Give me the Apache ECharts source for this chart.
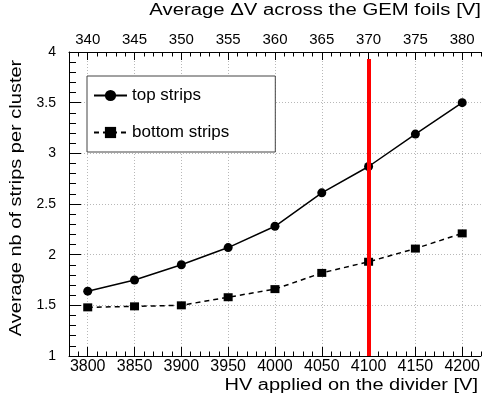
<!DOCTYPE html>
<html>
<head>
<meta charset="utf-8">
<script src="https://cdn.jsdelivr.net/npm/echarts@6/dist/echarts.min.js"></script>
<style>html,body{margin:0;padding:0;background:#fff}#c{width:483px;height:394px}</style>
</head>
<body>
<div id="c"></div>
<script>
const hv = [3800, 3850, 3900, 3950, 4000, 4050, 4100, 4150, 4200];
const topStrips = [1.64, 1.75, 1.90, 2.07, 2.28, 2.61, 2.87, 3.19, 3.50];
const bottomStrips = [1.48, 1.49, 1.50, 1.58, 1.66, 1.82, 1.93, 2.06, 2.21];
const bottomTicks = [3800, 3850, 3900, 3950, 4000, 4050, 4100, 4150, 4200];
const topTicks = [340, 345, 350, 355, 360, 365, 370, 375, 380];
const redLineX = 4100;
const redLineY = [1, 3.93];

const FONT = 'Liberation Sans';
const chart = echarts.init(document.getElementById('c'));
const zip = (xs, ys) => xs.map((x, i) => [x, ys[i]]);
const gridLine = { show: true, lineStyle: { color: '#b8b8b8', type: [1, 2], width: 1 } };
const tickStyle = { color: '#000', width: 1 };

chart.setOption({
  animation: false,
  backgroundColor: '#fff',
  textStyle: { fontFamily: FONT, color: '#000' },
  graphic: [
    { type: 'text', right: 2, top: 3, scaleX: 1.27,
      style: { text: 'Average \u0394V across the GEM foils [V]', font: '16px "Liberation Sans"', fill: '#000' } },
    { type: 'text', right: 5, top: 378, scaleX: 1.25,
      style: { text: 'HV applied on the divider [V]', font: '16px "Liberation Sans"', fill: '#000' } },
    { type: 'text', x: 17, y: 198, rotation: Math.PI / 2, scaleY: 0.8,
      style: { text: 'Average nb of strips per cluster', font: '20px "Liberation Sans"', fill: '#000',
        align: 'center', verticalAlign: 'middle' } }
  ],
  grid: { left: 69, right: -3, top: 52, bottom: 38, containLabel: false },
  legend: {
    data: ['top strips', 'bottom strips'],
    orient: 'vertical', left: 87, top: 76,
    padding: [11, 46, 11, 6],
    itemWidth: 33, itemHeight: 14, itemGap: 20,
    backgroundColor: '#fff', borderColor: '#444', borderWidth: 1,
    textStyle: { fontFamily: FONT, fontSize: 17, color: '#000' }
  },
  xAxis: [
    { type: 'value', position: 'bottom', min: 3780, max: 4220, interval: 10,
      axisLine: { show: true, lineStyle: { color: '#000', width: 1 } },
      axisTick: { show: true, inside: true, length: 4.5, lineStyle: tickStyle },
      axisLabel: { show: false }, splitLine: { show: false } },
    { type: 'value', position: 'bottom', min: 3780, max: 4220,
      axisLine: { show: false },
      axisTick: { show: true, inside: true, length: 9, customValues: bottomTicks, lineStyle: tickStyle },
      axisLabel: { show: true, customValues: bottomTicks, margin: 3, fontSize: 16, fontFamily: FONT, color: '#000',
        formatter: v => String(v) },
      splitLine: gridLine },
    { type: 'value', position: 'top', min: 338, max: 382, interval: 1,
      axisLine: { show: true, lineStyle: { color: '#000', width: 1 } },
      axisTick: { show: true, inside: true, length: 4.5, lineStyle: tickStyle },
      axisLabel: { show: false }, splitLine: { show: false } },
    { type: 'value', position: 'top', min: 338, max: 382,
      axisLine: { show: false },
      axisTick: { show: true, inside: true, length: 8, customValues: topTicks, lineStyle: tickStyle },
      axisLabel: { show: true, customValues: topTicks, margin: 5, fontSize: 15, fontFamily: FONT, color: '#000' },
      splitLine: { show: false } }
  ],
  yAxis: [
    { type: 'value', min: 1, max: 4, interval: 0.5,
      axisLine: { show: true, lineStyle: { color: '#000', width: 1 } },
      axisTick: { show: true, inside: true, length: 12, lineStyle: tickStyle },
      minorTick: { show: true, splitNumber: 5, length: 7, lineStyle: tickStyle },
      axisLabel: { margin: 13, fontSize: 14, fontFamily: FONT, color: '#000' },
      splitLine: gridLine }
  ],
  series: [
    { name: 'top strips', type: 'line', xAxisIndex: 0, yAxisIndex: 0,
      data: zip(hv, topStrips), symbol: 'circle', symbolSize: 9,
      lineStyle: { color: '#000', width: 1.5, type: 'solid' },
      itemStyle: { color: '#000' }, z: 3,
      markLine: { silent: true, symbol: 'none', label: { show: false },
        lineStyle: { color: '#ff0000', width: 4, type: 'solid' },
        data: [[{ coord: [redLineX, redLineY[1]] }, { coord: [redLineX, redLineY[0]] }]] } },
    { name: 'bottom strips', type: 'line', xAxisIndex: 0, yAxisIndex: 0,
      data: zip(hv, bottomStrips), symbol: 'rect', symbolSize: [9, 8],
      lineStyle: { color: '#000', width: 1.5, type: [5, 4] },
      itemStyle: { color: '#000' }, z: 3 }
  ]
});
</script>
</body>
</html>
